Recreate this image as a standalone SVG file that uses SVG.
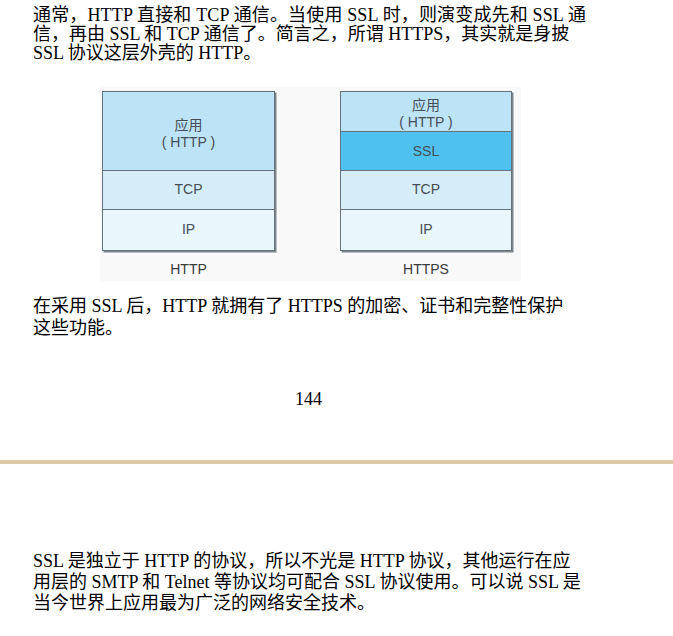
<svg xmlns="http://www.w3.org/2000/svg" width="673" height="636" viewBox="0 0 673 636">
  <style>
    .body { font-family: "Liberation Serif", "Noto Sans CJK SC", serif; font-size: 18px; fill: #000; }
    .lbl { font-family: "Liberation Sans", "Noto Sans CJK SC", sans-serif; font-size: 14px; fill: #454e56; text-anchor: middle; }
    .cap { font-family: "Liberation Sans", "Noto Sans CJK SC", sans-serif; font-size: 14px; fill: #3a3a3a; text-anchor: middle; }
    .layer { stroke: #66727b; stroke-width: 1; }
    .shadow { fill: #7d868d; }
    .app { fill: #bde3f6; }
    .ssl { fill: #4fc1ef; }
    .tcp { fill: #d5edf9; }
    .ip { fill: #e9f6fc; }
  </style>
  <rect width="673" height="636" fill="#ffffff"/>

  <g id="para-top">
    <text class="body" x="33" y="21" textLength="553" lengthAdjust="spacing">通常，HTTP 直接和 TCP 通信。当使用 SSL 时，则演变成先和 SSL 通</text>
    <text class="body" x="33" y="40">信，再由 SSL 和 TCP 通信了。简言之，所谓 HTTPS，其实就是身披</text>
    <text class="body" x="33" y="59">SSL 协议这层外壳的 HTTP。</text>
  </g>

  <rect x="100" y="87" width="421" height="194" fill="#f9f9f9"/>

  <g id="stack-http">
    <rect class="shadow" x="103.5" y="92.5" width="173" height="160"/>
    <rect class="layer app" x="102.5" y="91.5" width="172" height="79"/>
    <rect class="layer tcp" x="102.5" y="170.5" width="172" height="39"/>
    <rect class="layer ip" x="102.5" y="209.5" width="172" height="41"/>
    <text class="lbl" x="188.5" y="130">应用</text>
    <text class="lbl" x="188.5" y="147">( HTTP )</text>
    <text class="lbl" x="188.5" y="194">TCP</text>
    <text class="lbl" x="188.5" y="234">IP</text>
    <text class="cap" x="188.5" y="274">HTTP</text>
  </g>

  <g id="stack-https">
    <rect class="shadow" x="341.5" y="92.5" width="172" height="160"/>
    <rect class="layer app" x="340.5" y="91.5" width="171" height="40"/>
    <rect class="layer ssl" x="340.5" y="131.5" width="171" height="39"/>
    <rect class="layer tcp" x="340.5" y="170.5" width="171" height="39"/>
    <rect class="layer ip" x="340.5" y="209.5" width="171" height="41"/>
    <text class="lbl" x="426" y="110">应用</text>
    <text class="lbl" x="426" y="127">( HTTP )</text>
    <text class="lbl" x="426" y="156">SSL</text>
    <text class="lbl" x="426" y="194">TCP</text>
    <text class="lbl" x="426" y="234">IP</text>
    <text class="cap" x="426" y="274">HTTPS</text>
  </g>

  <g id="connectors"></g>

  <g id="para-mid">
    <text class="body" x="33" y="312">在采用 SSL 后，HTTP 就拥有了 HTTPS 的加密、证书和完整性保护</text>
    <text class="body" x="33" y="334">这些功能。</text>
  </g>

  <g id="page-number">
    <text class="body" x="308.5" y="405" text-anchor="middle">144</text>
  </g>

  <rect id="separator" x="0" y="460" width="673" height="4" fill="#dccaa6"/>

  <g id="para-bottom">
    <text class="body" x="33" y="567">SSL 是独立于 HTTP 的协议，所以不光是 HTTP 协议，其他运行在应</text>
    <text class="body" x="33" y="588">用层的 SMTP 和 Telnet 等协议均可配合 SSL 协议使用。可以说 SSL 是</text>
    <text class="body" x="33" y="609">当今世界上应用最为广泛的网络安全技术。</text>
  </g>
</svg>
